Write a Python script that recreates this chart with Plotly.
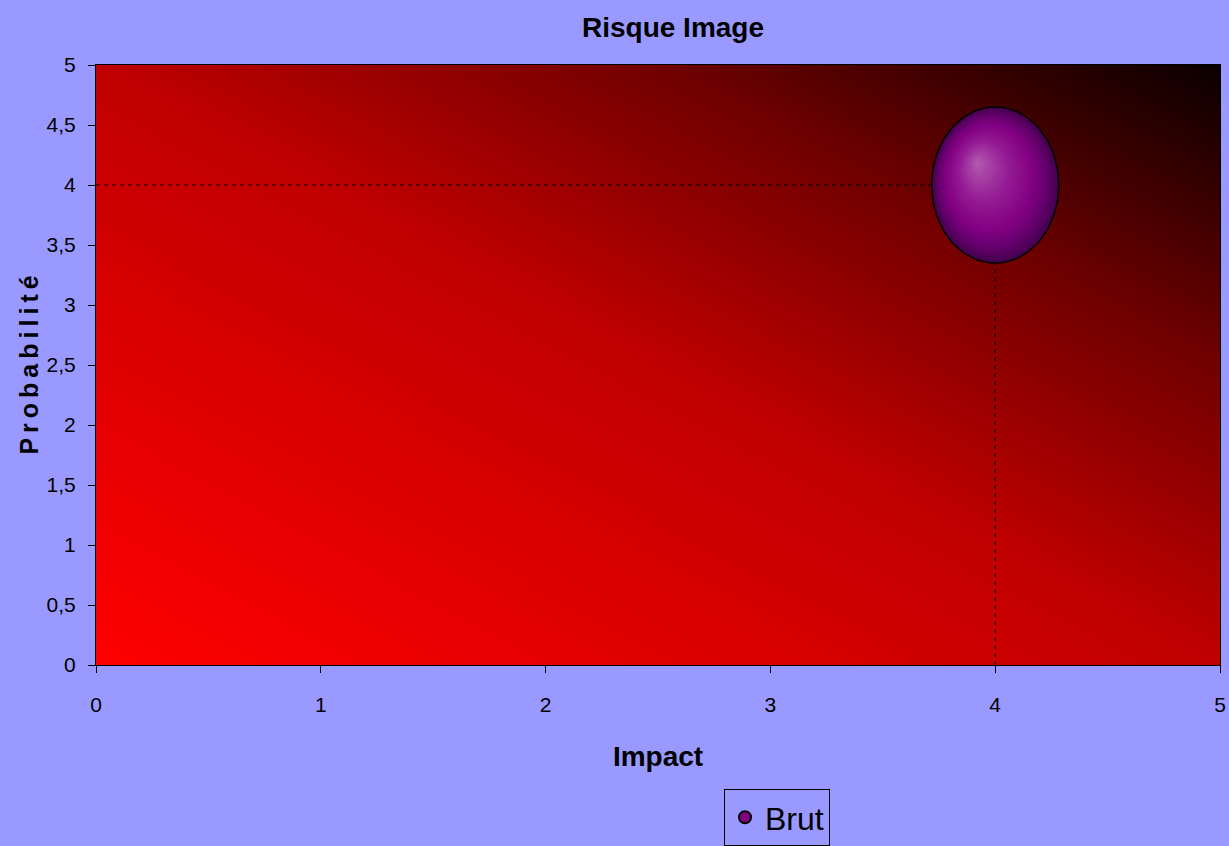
import base64
import numpy as np
import plotly.graph_objects as go

# ---- data ----
series_name = "Brut"
impact = [4]          # x
probabilite = [4]     # y
x_ticks = [0, 1, 2, 3, 4, 5]
y_ticks = [0, 0.5, 1, 1.5, 2, 2.5, 3, 3.5, 4, 4.5, 5]

title_text = "Risque Image"
x_title = "Impact"
y_title = "Probabilité"

# ---- styling ----
PAGE_BG = "#9999FF"
BUBBLE_RX = 0.2825   # half-width in x units
BUBBLE_RY = 0.65     # half-height in y units
HL_DX, HL_DY = -0.29, 0.29  # highlight offset (fraction of radii)
TICK_FONT = dict(family="Liberation Sans, Arial", size=21, color="black")

grad_svg = (
    '<svg xmlns="http://www.w3.org/2000/svg" width="100" height="100" viewBox="0 0 100 100" '
    'preserveAspectRatio="none"><defs><linearGradient id="g" x1="0" y1="1" x2="1" y2="0">'
    '<stop offset="0" stop-color="#FF0000"/>'
    '<stop offset="0.5" stop-color="#C00000"/>'
    '<stop offset="0.75" stop-color="#700000"/>'
    '<stop offset="0.88" stop-color="#3A0000"/>'
    '<stop offset="1" stop-color="#0A0000"/>'
    '</linearGradient></defs><rect width="100" height="100" fill="url(#g)"/></svg>'
)
grad_src = "data:image/svg+xml;base64," + base64.b64encode(grad_svg.encode()).decode()

fig = go.Figure()

# dashed guide lines from the axes to the bubble
gx, gy = [], []
for xv, yv in zip(impact, probabilite):
    gx += [0, xv, None, xv, xv, None]
    gy += [yv, yv, None, 0, yv, None]
fig.add_trace(go.Scatter(x=gx, y=gy, mode="lines", showlegend=False, hoverinfo="skip",
                         line=dict(color="black", width=1, dash="4px,4px")))

# legend-carrying marker (hidden under the bubble)
fig.add_trace(go.Scatter(x=impact, y=probabilite, mode="markers", name=series_name,
                         marker=dict(size=90, color="#800080", line=dict(color="black", width=1))))

# shaded bubble: concentric ellipses towards an upper-left highlight
def lerp_color(stops, t):
    for (t0, c0), (t1, c1) in zip(stops[:-1], stops[1:]):
        if t0 <= t <= t1:
            f = (t - t0) / (t1 - t0) if t1 > t0 else 0
            c = [int(round(a + (b - a) * f)) for a, b in zip(c0, c1)]
            return "rgb(%d,%d,%d)" % tuple(c)
    return "rgb(%d,%d,%d)" % tuple(stops[-1][1])

stops = [(0.0, (70, 0, 80)), (0.12, (98, 0, 106)), (0.3, (130, 0, 130)),
         (0.6, (148, 28, 148)), (0.85, (168, 68, 166)), (1.0, (180, 94, 176))]
theta = np.linspace(0, 2 * np.pi, 120)
N = 30
for xv, yv in zip(impact, probabilite):
    for k in range(N):
        t = k / N
        cx = xv + t * HL_DX * BUBBLE_RX
        cy = yv + t * HL_DY * BUBBLE_RY
        s = 1 - t
        fig.add_trace(go.Scatter(x=cx + s * BUBBLE_RX * np.cos(theta),
                                 y=cy + s * BUBBLE_RY * np.sin(theta),
                                 mode="lines", fill="toself", line=dict(width=0),
                                 fillcolor=lerp_color(stops, t),
                                 showlegend=False, hoverinfo="skip"))
    fig.add_trace(go.Scatter(x=xv + BUBBLE_RX * np.cos(theta), y=yv + BUBBLE_RY * np.sin(theta),
                             mode="lines", line=dict(color="black", width=1.5),
                             showlegend=False, hoverinfo="skip"))

fig.update_layout(
    width=1229, height=846,
    paper_bgcolor=PAGE_BG, plot_bgcolor="#C00000",
    margin=dict(l=96, r=9, t=65, b=181, autoexpand=False),
    separators=", ",
    title=dict(text="<b>%s</b>" % title_text, x=673 / 1229, xanchor="center",
               y=1 - 27 / 846, yanchor="middle",
               font=dict(family="Liberation Sans, Arial", size=28, color="black")),
    images=[dict(source=grad_src, xref="x", yref="y", x=0, y=5, sizex=5, sizey=5,
                 xanchor="left", yanchor="top", sizing="stretch", layer="below")],
    legend=dict(x=(724 - 96) / 1124, y=(665 - 789) / 600,
                xanchor="left", yanchor="top", bgcolor=PAGE_BG, bordercolor="black",
                borderwidth=1, itemsizing="constant",
                font=dict(family="Liberation Sans, Arial", size=32, color="black")),
    showlegend=True,
)
fig.update_xaxes(range=[0, 5], tickvals=x_ticks, showgrid=False, zeroline=False,
                 showline=True, linecolor="black", linewidth=1, mirror=True, automargin=False,
                 ticks="outside", ticklen=7, tickcolor="black", tickfont=TICK_FONT,
                 ticklabelstandoff=14,
                 title=dict(text="<b>%s</b>" % x_title, standoff=31,
                            font=dict(family="Liberation Sans, Arial", size=28, color="black")))
fig.update_yaxes(range=[0, 5], tickvals=y_ticks, showgrid=False, zeroline=False,
                 showline=True, linecolor="black", linewidth=1, mirror=True, automargin=False,
                 ticks="outside", ticklen=7, tickcolor="black", tickfont=TICK_FONT,
                 ticklabelstandoff=8,
                 title=dict(text="<b>%s</b>" % "\u2009".join(y_title), standoff=0,
                            font=dict(family="Liberation Sans, Arial", size=25, color="black")))

fig.write_html("out.html", config={"displayModeBar": False},
               post_script="document.body.style.margin='0';")
